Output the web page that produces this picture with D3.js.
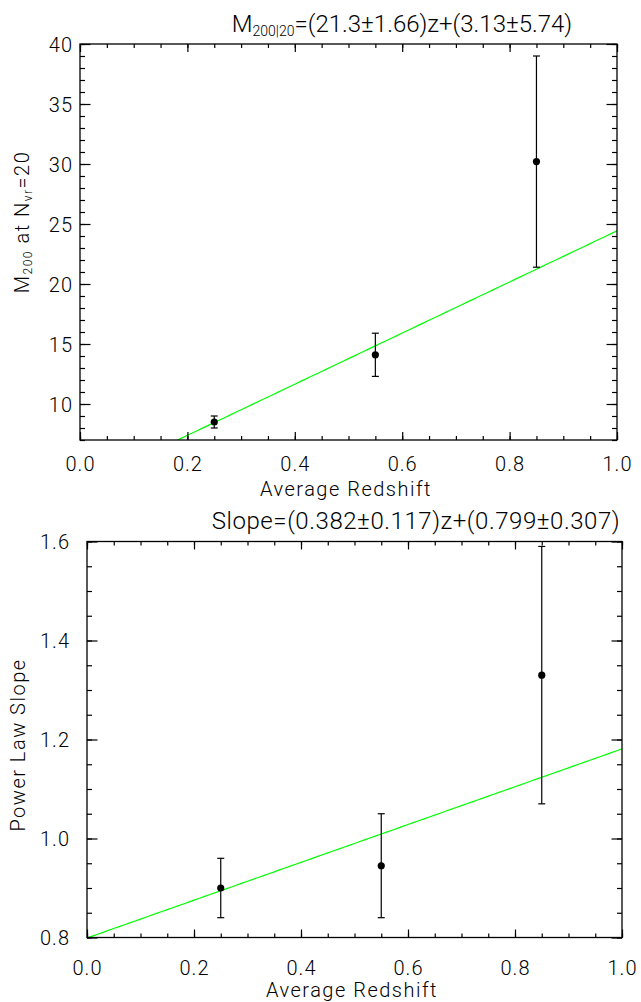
<!DOCTYPE html>
<html><head><meta charset="utf-8">
<script src="https://cdn.jsdelivr.net/npm/d3@7"></script>
<style>
body{margin:0;background:#fff;}
svg text{font-family:Roboto,"DejaVu Sans",sans-serif;font-weight:300;fill:#000;}
</style></head>
<body><svg id="c" width="641" height="1002"></svg>
<script>
// ---- data ----
const redshift = [0.25, 0.55, 0.85];
const massValues = [8.5, 14.1, 30.2];
const massErrors = [0.5, 1.8, 8.8];
const massFit = {slope: 21.3, intercept: 3.13};
const slopeValues = [0.90, 0.945, 1.33];
const slopeErrors = [0.06, 0.105, 0.26];
const slopeFit = {slope: 0.382, intercept: 0.799};
const xTicks = [0.0, 0.2, 0.4, 0.6, 0.8, 1.0];
const massTicks = [10, 15, 20, 25, 30, 35, 40];
const slopeTicks = [0.8, 1.0, 1.2, 1.4, 1.6];

const svg = d3.select("#c");

function panel(o){
  const x = d3.scaleLinear().domain([0,1]).range([o.x0,o.x1]);
  const y = d3.scaleLinear().domain(o.yDomain).range([o.y1,o.y0]);
  const g = svg.append("g");
  const cid = "clip"+o.id;
  g.append("clipPath").attr("id",cid).append("rect")
    .attr("x",o.x0).attr("y",o.y0).attr("width",o.x1-o.x0).attr("height",o.y1-o.y0);
  // fit line
  const fx = d3.range(0,1.0001,0.01);
  g.append("path").attr("clip-path",`url(#${cid})`)
    .datum(fx.map(z=>[z, o.fit.slope*z+o.fit.intercept]))
    .attr("fill","none").attr("stroke","#00ff00").attr("stroke-width",1.2)
    .attr("d", d3.line().x(d=>x(d[0])).y(d=>y(d[1])));
  // axes (ticks inward on all sides)
  const xMinor = d3.range(0,1.0001,0.05);
  const yMinor = d3.range(o.yMinorStart, o.yDomain[1]+1e-9, o.yMinorStep);
  const ax = (gen, tx, ty) => g.append("g").attr("transform",`translate(${tx},${ty})`).call(gen);
  const style = sel => { sel.select(".domain").remove(); sel.selectAll("line").attr("stroke","#000").attr("stroke-width",1.2); };
  style(ax(d3.axisBottom(x).tickValues(xMinor).tickSize(-4).tickFormat(""),0,o.y1));
  style(ax(d3.axisTop(x).tickValues(xMinor).tickSize(-4).tickFormat(""),0,o.y0));
  style(ax(d3.axisLeft(y).tickValues(yMinor).tickSize(-5).tickFormat(""),o.x0,0));
  style(ax(d3.axisRight(y).tickValues(yMinor).tickSize(-5).tickFormat(""),o.x1,0));
  const bx = ax(d3.axisBottom(x).tickValues(xTicks).tickSize(-8).tickPadding(0).tickFormat(d3.format(".1f")),0,o.y1);
  style(bx);
  bx.selectAll("text").attr("font-size",20).attr("letter-spacing",1).attr("y",o.xLabelDy).attr("dy","0.35em");
  style(ax(d3.axisTop(x).tickValues(xTicks).tickSize(-8).tickFormat(""),0,o.y0));
  const ly = ax(d3.axisLeft(y).tickValues(o.yTicks).tickSize(-10.5).tickFormat(o.yFormat),o.x0,0);
  style(ly);
  ly.selectAll("text").attr("font-size",20).attr("letter-spacing",1).attr("x",-o.yLabelGap).attr("dy","0.35em");
  style(ax(d3.axisRight(y).tickValues(o.yTicks).tickSize(-10.5).tickFormat(""),o.x1,0));
  g.append("rect").attr("x",o.x0).attr("y",o.y0).attr("width",o.x1-o.x0).attr("height",o.y1-o.y0)
    .attr("fill","none").attr("stroke","#000").attr("stroke-width",1.3);
  // error bars
  const pts = redshift.map((z,i)=>({z, v:o.values[i], e:o.errors[i]}));
  const eb = g.selectAll(".eb"+o.id).data(pts).enter().append("g");
  eb.append("line").attr("x1",d=>x(d.z)).attr("x2",d=>x(d.z))
    .attr("y1",d=>y(d.v-d.e)).attr("y2",d=>y(d.v+d.e)).attr("stroke","#000").attr("stroke-width",1.2);
  [-1,1].forEach(s=>{
    eb.append("line").attr("x1",d=>x(d.z)-3.5).attr("x2",d=>x(d.z)+3.5)
      .attr("y1",d=>y(d.v+s*d.e)).attr("y2",d=>y(d.v+s*d.e)).attr("stroke","#000").attr("stroke-width",1.2);
  });
  eb.append("circle").attr("cx",d=>x(d.z)).attr("cy",d=>y(d.v)).attr("r",3.6).attr("fill","#000");
  svg.append("text").attr("x",o.xTitleX).attr("y",o.xTitleY).attr("text-anchor","middle")
    .attr("font-size",20).attr("letter-spacing",1.5).attr("dy","0.35em").text("Average Redshift");
  return {x,y};
}

panel({id:1, x0:80, x1:617, y0:44, y1:440, yDomain:[7,40], yTicks:massTicks, yMinorStart:7, yMinorStep:1,
  yFormat:d3.format("d"), fit:massFit, values:massValues, errors:massErrors, xLabelDy:24, xTitleY:489,
  xTitleX:346, yLabelGap:7});
panel({id:2, x0:87, x1:622, y0:541.5, y1:937.5, yDomain:[0.8,1.6], yTicks:slopeTicks, yMinorStart:0.8, yMinorStep:0.05,
  yFormat:d3.format(".1f"), fit:slopeFit, values:slopeValues, errors:slopeErrors, xLabelDy:30, xTitleY:990,
  xTitleX:352, yLabelGap:17});

// titles
const t1 = svg.append("text").attr("x",402).attr("y",32).attr("text-anchor","middle").attr("font-size",24).attr("letter-spacing",0);
t1.append("tspan").text("M");
t1.append("tspan").attr("font-size",14).attr("dy",4).text("200|20");
t1.append("tspan").attr("dy",-4).text("=(21.3±1.66)z+(3.13±5.74)");
svg.append("text").attr("x",416).attr("y",529).attr("text-anchor","middle").attr("font-size",24).attr("letter-spacing",0.55)
  .text("Slope=(0.382±0.117)z+(0.799±0.307)");

// y titles
const yt1 = svg.append("text").attr("transform","translate(29,222) rotate(-90)").attr("text-anchor","middle").attr("font-size",20).attr("letter-spacing",1.5);
yt1.append("tspan").text("M");
yt1.append("tspan").attr("font-size",12).attr("dy",3).text("200");
yt1.append("tspan").attr("dy",-3).text(" at N");
yt1.append("tspan").attr("font-size",12).attr("dy",3).text("vr");
yt1.append("tspan").attr("dy",-3).text("=20");
svg.append("text").attr("transform","translate(25,745) rotate(-90)").attr("text-anchor","middle").attr("font-size",20).attr("letter-spacing",1.5)
  .text("Power Law Slope");
</script></body></html>
